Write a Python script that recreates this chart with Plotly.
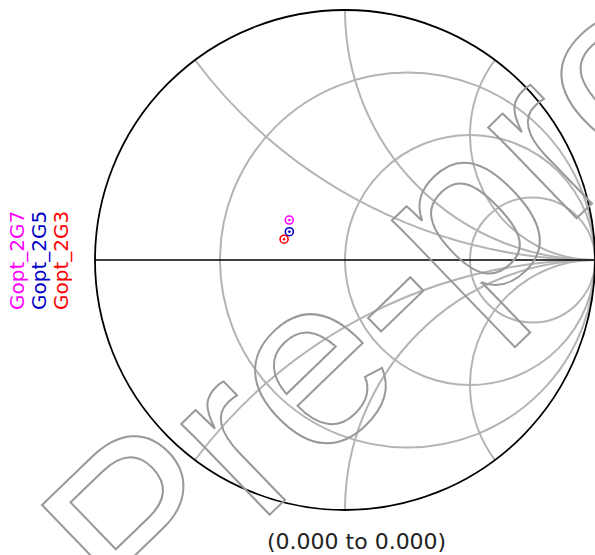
import plotly.graph_objects as go

W, H = 595, 555

# ---- data (normalised impedance) ----
series_names = ["Gopt_2G7", "Gopt_2G5", "Gopt_2G3"]
series_colors = ["#FF00FF", "#0000C8", "#FF0000"]
real_vals = [0.608, 0.622, 0.601]
imag_vals = [0.210, 0.150, 0.107]

real_grid = [1/3, 1, 3]
imag_grid = [-2, -1, -0.5, 0.5, 1, 2]

range_label = "(0.000 to 0.000)"
watermark = "Pre-production"

fig = go.Figure()
for name, col, r, x in zip(series_names, series_colors, real_vals, imag_vals):
    fig.add_trace(go.Scattersmith(
        real=[r], imag=[x], mode="markers", name=name, showlegend=False,
        marker=dict(symbol="circle-open-dot", size=8, color=col,
                    line=dict(width=1.6, color=col)),
    ))

annos = []
leg_x = [17, 39, 61]
for name, col, px in zip(series_names, series_colors, leg_x):
    annos.append(dict(text=name, x=px / W, y=1 - 261 / H, xref="paper", yref="paper",
                      showarrow=False, textangle=-90, xanchor="center", yanchor="middle",
                      font=dict(family="DejaVu Sans", size=20, color=col)))
annos.append(dict(text=range_label, x=356 / W, y=1 - 541 / H, xref="paper", yref="paper",
                  showarrow=False, xanchor="center", yanchor="middle",
                  font=dict(family="DejaVu Sans", size=22, color="#222222")))
annos.append(dict(text=watermark, x=651 / W, y=1 - 31 / H, xref="paper", yref="paper",
                  showarrow=False, textangle=-44, xanchor="center", yanchor="middle",
                  font=dict(family="Liberation Sans", size=240, color="#999999")))

fig.update_layout(
    width=W, height=H, margin=dict(l=0, r=0, t=0, b=0),
    paper_bgcolor="white", plot_bgcolor="white",
    showlegend=False,
    smith=dict(
        domain=dict(x=[95 / W, 1.0], y=[45 / H, 545 / H]),
        bgcolor="white",
        realaxis=dict(tickvals=real_grid, showgrid=True, gridcolor="#B4B4B4", gridwidth=1.5,
                      showline=True, linecolor="black", linewidth=1.6,
                      showticklabels=False, ticks=""),
        imaginaryaxis=dict(tickvals=imag_grid, showgrid=True, gridcolor="#B4B4B4", gridwidth=1.5,
                           showline=True, linecolor="black", linewidth=1.8,
                           showticklabels=False, ticks=""),
    ),
    annotations=annos,
)

post = """
document.body.style.margin = '0';
document.body.style.padding = '0';
var gd = document.getElementsByClassName('plotly-graph-div')[0];
function outline(){
  document.querySelectorAll('text.annotation-text').forEach(function(t){
    if (t.textContent === 'Pre-production') {
      t.style.setProperty('fill', 'none', 'important');
      t.style.setProperty('stroke', '#999999', 'important');
      t.style.setProperty('stroke-width', '2px', 'important');
    }
  });
}
outline();
if (gd && gd.on) { gd.on('plotly_afterplot', outline); }
"""

fig.write_html("out.html", post_script=post, config={"displayModeBar": False})
